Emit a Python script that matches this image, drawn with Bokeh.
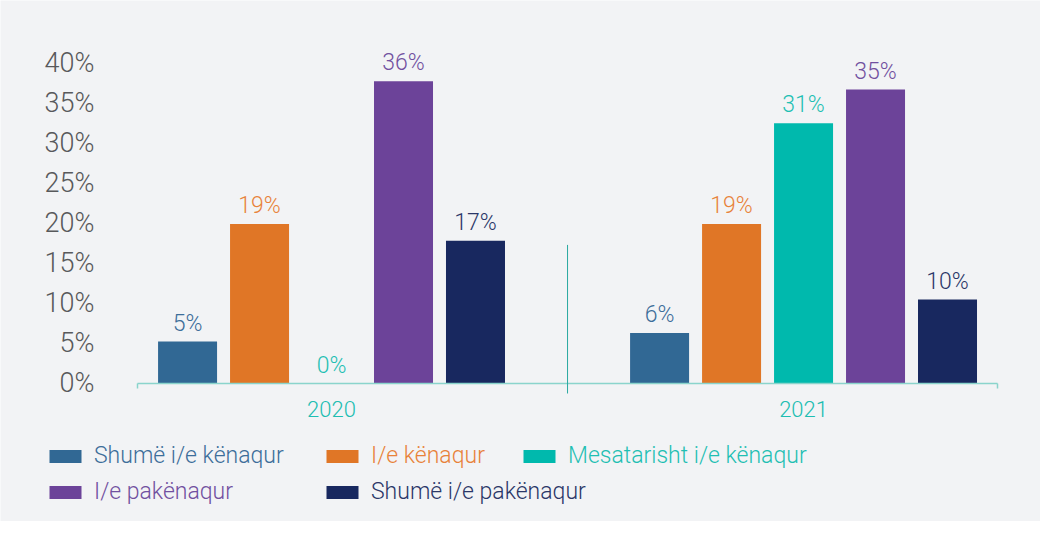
from bokeh.plotting import figure
from bokeh.models import (Range1d, LinearAxis, FixedTicker, PrintfTickFormatter,
                          ColumnDataSource, LabelSet, Legend, LegendItem, Arrow)
from bokeh.embed import file_html
from bokeh.resources import INLINE
from bokeh.core.properties import value

# ---------------- data ----------------
years = ["2020", "2021"]
series = ["Shumë i/e kënaqur", "I/e kënaqur", "Mesatarisht i/e kënaqur",
          "I/e pakënaqur", "Shumë i/e pakënaqur"]
values_2020 = [5, 19, 0, 36, 17]
values_2021 = [6, 19, 31, 35, 10]
y_tick_values = [0, 5, 10, 15, 20, 25, 30, 35, 40]

# ---------------- style ----------------
bar_colors = ["#316894", "#e07626", "#00b9ad", "#6c4399", "#18285f"]
text_colors = ["#3d6e9a", "#e8823a", "#1fbfb3", "#7150a0", "#2b3768"]
BG = "#f2f3f5"
FONT = "Roboto Light"
AXIS_COLOR = "#8ad4cc"
SEP_COLOR = "#2aa9a0"

XPAD = 0.411          # axis extent around the two group centres
STEP = 0.1525         # distance between neighbouring bars (group units)
BAR_W = 0.125

p = figure(width=1040, height=521, output_backend="svg", toolbar_location=None,
           x_range=Range1d(-0.7013, 1.502), y_range=Range1d(-16.43, 45.6),
           x_axis_location=None, y_axis_location=None)
p.background_fill_color = BG
p.border_fill_color = BG
p.outline_line_color = None
p.xgrid.grid_line_color = None
p.ygrid.grid_line_color = None
p.min_border = 0
p.min_border_left = 0
p.min_border_right = 0
p.min_border_top = 0
p.min_border_bottom = 0

# y axis (label spacing as in the original chart)
p.extra_y_ranges = {"ticks": Range1d(-17.21, 47.76)}
yax = LinearAxis(y_range_name="ticks", ticker=FixedTicker(ticks=y_tick_values),
                 formatter=PrintfTickFormatter(format="%d%%"),
                 fixed_location=-XPAD)
yax.axis_line_color = None
yax.major_tick_line_color = None
yax.minor_tick_line_color = None
yax.major_label_standoff = 37
yax.major_label_text_font = FONT
yax.major_label_text_font_size = "27px"
yax.major_label_text_color = "#58595b"
p.add_layout(yax, "left")

# x axis
xax = LinearAxis(ticker=FixedTicker(ticks=[0, 1], minor_ticks=[-XPAD, 1 + XPAD]),
                 fixed_location=0, bounds=(-XPAD, 1 + XPAD))
xax.major_label_overrides = {i: y for i, y in enumerate(years)}
xax.axis_line_color = AXIS_COLOR
xax.axis_line_width = 1.5
xax.major_tick_line_color = None
xax.major_tick_out = 0
xax.major_tick_in = 0
xax.minor_tick_line_color = AXIS_COLOR
xax.minor_tick_line_width = 1.5
xax.minor_tick_out = 5
xax.minor_tick_in = 0
xax.major_label_standoff = 12
xax.major_label_text_font = FONT
xax.major_label_text_font_size = "22px"
xax.major_label_text_color = "#20bdb1"
p.add_layout(xax, "below")

# bars + value labels + legend entries
legend_pos = [(45, 52), (322, 52), (519, 52), (45, 16), (322, 16)]
for i, name in enumerate(series):
    vals = [values_2020[i], values_2021[i]]
    src = ColumnDataSource(dict(
        x=[g + (i - 2) * STEP for g in range(len(years))],
        top=vals,
        txt=[f"{v}%" for v in vals],
    ))
    r = p.vbar(x="x", top="top", bottom=0, width=BAR_W, source=src,
               fill_color=bar_colors[i], line_color=None)
    p.add_layout(LabelSet(x="x", y="top", text="txt", source=src, y_offset=11,
                          text_align="center", text_baseline="alphabetic",
                          text_font=value(FONT), text_font_size="23px",
                          text_color=text_colors[i]))
    lg = Legend(items=[LegendItem(label=name, renderers=[r])],
                location=legend_pos[i], orientation="horizontal",
                glyph_width=40, glyph_height=16, label_standoff=9,
                label_height=26, padding=0, margin=0, spacing=0,
                border_line_color=None, background_fill_alpha=0,
                label_text_font=FONT, label_text_font_size="23px",
                label_text_color=text_colors[i])
    p.add_layout(lg, "center")

# separator between the two years
p.add_layout(Arrow(end=None, x_start=0.5, y_start=16.5, x_end=0.5, y_end=-1.19,
                   line_color=SEP_COLOR, line_width=1))

open("out.html", "w").write(file_html(p, INLINE))
